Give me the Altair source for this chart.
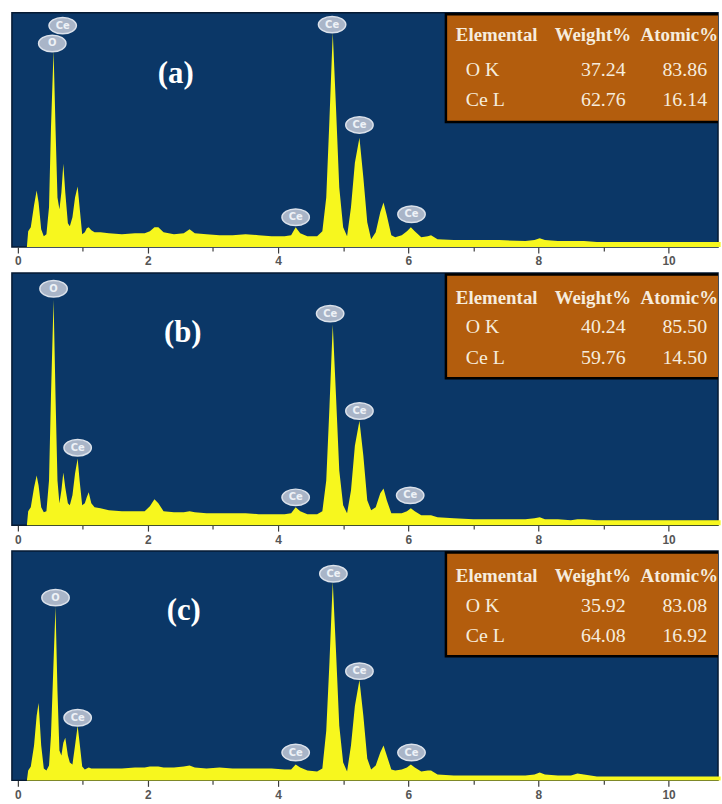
import altair as alt
import pandas as pd

# ---- spectra: shared energy grid (keV) and counts for the three samples ----
energy = [
    0.00, 0.14, 0.16, 0.20, 0.25, 0.29, 0.32, 0.36, 0.40, 0.44, 0.48, 0.51,
    0.55, 0.58, 0.61, 0.64, 0.67, 0.70, 0.73, 0.77, 0.80, 0.84, 0.88, 0.92,
    0.95, 0.99, 1.03, 1.06, 1.09, 1.13, 1.18, 1.27, 1.40, 1.60, 1.80, 1.95,
    2.03, 2.10, 2.16, 2.24, 2.40, 2.55, 2.64, 2.72, 2.90, 3.10, 3.30, 3.50,
    3.70, 3.90, 4.10, 4.20, 4.27, 4.34, 4.45, 4.60, 4.68, 4.74, 4.79, 4.84,
    4.89, 4.94, 5.00, 5.06, 5.12, 5.18, 5.25, 5.31, 5.37, 5.43, 5.50, 5.57,
    5.62, 5.67, 5.74, 5.80, 5.90, 5.98, 6.04, 6.10, 6.20, 6.30, 6.35, 6.45,
    6.70, 7.00, 7.40, 7.80, 7.94, 8.02, 8.10, 8.30, 8.50, 8.60, 8.70, 8.90,
    9.20, 9.60, 10.00, 10.40, 10.80,
]
counts_a = [
    0, 0, 16, 20, 42, 57, 45, 18, 11, 13, 40, 120,
    198, 120, 50, 38, 55, 84, 55, 24, 21, 30, 50, 61,
    40, 13, 15, 19, 20, 17, 15, 15, 14, 13, 14, 14,
    16, 20, 20, 15, 13, 14, 18, 14, 13, 12, 12, 13,
    12, 11, 11, 12, 20, 14, 11, 11, 16, 50, 130, 216,
    140, 60, 20, 11, 40, 85, 110, 70, 25, 8, 15, 35,
    45, 32, 12, 10, 12, 16, 20, 16, 10, 11, 12, 8,
    7, 7, 7, 6, 7, 9, 7, 6, 6, 6, 6, 5,
    5, 5, 5, 5, 5,
]
counts_b = [
    0, 0, 14, 18, 38, 50, 40, 18, 13, 14, 45, 130,
    227, 130, 45, 22, 35, 53, 38, 22, 20, 30, 52, 67,
    45, 20, 22, 28, 33, 22, 18, 17, 15, 14, 14, 14,
    19, 26, 22, 14, 13, 13, 14, 13, 12, 12, 12, 12,
    11, 11, 11, 12, 18, 14, 11, 11, 14, 45, 120, 202,
    130, 55, 20, 12, 35, 80, 105, 70, 25, 15, 18, 32,
    37, 25, 12, 12, 12, 14, 17, 14, 10, 10, 10, 8,
    7, 6, 6, 6, 7, 8, 6, 6, 5, 6, 6, 5,
    5, 5, 5, 5, 5,
]
counts_c = [
    0, 0, 10, 14, 35, 65, 78, 35, 12, 10, 15, 45,
    120, 175, 90, 30, 25, 38, 43, 25, 18, 16, 35, 55,
    38, 14, 11, 12, 13, 12, 12, 12, 12, 12, 13, 13,
    14, 14, 14, 13, 13, 14, 15, 13, 12, 13, 12, 12,
    12, 12, 11, 11, 16, 13, 10, 9, 12, 50, 120, 200,
    130, 55, 18, 9, 35, 75, 101, 65, 22, 11, 15, 28,
    35, 25, 11, 10, 11, 13, 16, 13, 9, 10, 10, 6,
    5, 5, 5, 5, 6, 8, 6, 5, 5, 7, 6, 4,
    4, 4, 4, 4, 4,
]

# ---- peak badges: energy, element, badge level ----
badge_energy_a = [0.53, 0.69, 4.83, 5.25, 4.27, 6.05]
badge_label_a = ["O", "Ce", "Ce", "Ce", "Ce", "Ce"]
badge_level_a = [205, 223, 224, 123, 30, 33]

badge_energy_b = [0.55, 0.92, 4.27, 4.80, 5.25, 6.03]
badge_label_b = ["O", "Ce", "Ce", "Ce", "Ce", "Ce"]
badge_level_b = [238, 78, 28, 213, 115, 30]

badge_energy_c = [0.58, 0.92, 4.27, 4.85, 5.25, 6.05]
badge_label_c = ["O", "Ce", "Ce", "Ce", "Ce", "Ce"]
badge_level_c = [184, 63, 28, 208, 110, 28]

# ---- quantification tables ----
table_header = ["Elemental", "Weight%", "Atomic%"]
table_lines = ["O K", "Ce L"]
weight_a = [37.24, 62.76]
atomic_a = [83.86, 16.14]
weight_b = [40.24, 59.76]
atomic_b = [85.50, 14.50]
weight_c = [35.92, 64.08]
atomic_c = [83.08, 16.92]

# ---- axis ticks ----
label_ticks = [0, 2, 4, 6, 8, 10]
minor_step = 0.25
tick_values = [round(minor_step * i, 2) for i in range(44)]

NAVY = "#0B3767"
YELLOW = "#F7F71E"
BROWN = "#B35D0D"
BADGE = "#A9B5C8"
CREAM = "#F6ECDD"
WIDTH = 711
SERIF = "Liberation Serif"

ELLIPSE = "M -1 0 A 1 0.6 0 1 1 1 0 A 1 0.6 0 1 1 -1 0 Z"


def panel(counts, height, b_e, b_l, b_y, tag, tag_x, tag_y,
          weight, atomic, row_y, box_y2):
    xscale = alt.Scale(domain=[-0.09, 10.76], nice=False, zero=False)
    yscale = alt.Scale(domain=[0, height], nice=False)
    even = "indexof(" + str(label_ticks) + ", datum.value) >= 0"
    xaxis = alt.Axis(
        values=tick_values,
        labelExpr=f"{even} ? format(datum.value, 'd') : ''",
        tickSize={"condition": [{"test": even, "value": 6},
                                {"test": "datum.value % 1 === 0", "value": 4}],
                  "value": 3},
        tickColor="#3c3c3c", tickWidth=1.2, domain=False, grid=False,
        labelFont="Liberation Sans", labelFontWeight="bold",
        labelFontSize=12, labelColor="#555555", labelPadding=3,
        labelFlush=False, labelOverlap=False, title=None,
    )

    spec = pd.DataFrame({"keV": energy, "cps": counts})
    area = alt.Chart(spec).mark_area(color=YELLOW, opacity=1).encode(
        x=alt.X("keV:Q", scale=xscale, axis=xaxis),
        y=alt.Y("cps:Q", scale=yscale, axis=None),
    )

    badges = pd.DataFrame({"keV": b_e, "el": b_l, "lvl": b_y})
    bx = alt.X("keV:Q", scale=xscale)
    by = alt.Y("lvl:Q", scale=yscale)
    badge_shape = alt.Chart(badges).mark_point(
        shape=ELLIPSE, size=760, filled=True, fill=BADGE, stroke="#DCE2EB",
        strokeWidth=1.5, opacity=1,
    ).encode(x=bx, y=by)
    badge_text = alt.Chart(badges).mark_text(
        font="DejaVu Sans", fontSize=10, fontWeight="bold", color="#EEF2F7",
    ).encode(x=bx, y=by, text="el:N")

    tag_mark = alt.Chart(pd.DataFrame({"t": [tag]})).mark_text(
        font=SERIF, fontSize=31, fontWeight="bold", color="white",
    ).encode(text="t:N", x=alt.value(tag_x), y=alt.value(tag_y))

    box = alt.Chart(pd.DataFrame({"b": [0]})).mark_rect(
        fill=BROWN, stroke="black", strokeWidth=2.5, clip=True,
    ).encode(x=alt.value(437), x2=alt.value(730),
             y=alt.value(1.5), y2=alt.value(box_y2))

    cells = []

    def cell(text, x, y, align, bold, size):
        cells.append(
            alt.Chart(pd.DataFrame({"s": [text]})).mark_text(
                font=SERIF, fontSize=size,
                fontWeight="bold" if bold else "normal",
                color=CREAM, align=align, baseline="middle", clip=True,
            ).encode(text="s:N", x=alt.value(x), y=alt.value(y))
        )

    cell(table_header[0], 447, row_y[0], "left", True, 19)
    cell(table_header[1], 585, row_y[0], "center", True, 19)
    cell(table_header[2], 633, row_y[0], "left", True, 19)
    for i, name in enumerate(table_lines):
        cell(name, 457, row_y[i + 1], "left", False, 20)
        cell(f"{weight[i]:.2f}", 618, row_y[i + 1], "right", False, 20)
        cell(f"{atomic[i]:.2f}", 700, row_y[i + 1], "right", False, 20)

    return alt.layer(area, badge_shape, badge_text, tag_mark, box, *cells).properties(
        width=WIDTH, height=height
    )


pa = panel(counts_a, 236, badge_energy_a, badge_label_a, badge_level_a,
           "(a)", 165, 62, weight_a, atomic_a, [23, 58, 88], 110)
pb = panel(counts_b, 254, badge_energy_b, badge_label_b, badge_level_b,
           "(b)", 172, 61, weight_b, atomic_b, [25, 55, 86], 106)
pc = panel(counts_c, 231, badge_energy_c, badge_label_c, badge_level_c,
           "(c)", 173, 61, weight_c, atomic_c, [25, 55, 86], 106)

chart = alt.vconcat(pa, pb, pc, spacing=4).configure_view(
    fill=NAVY, stroke="#061a33", strokeWidth=1.5
).properties(
    padding={"left": 11, "top": 9, "right": 0, "bottom": 0},
    background="white",
)

chart.save("out.html", embed_options={"renderer": "svg", "actions": False})
